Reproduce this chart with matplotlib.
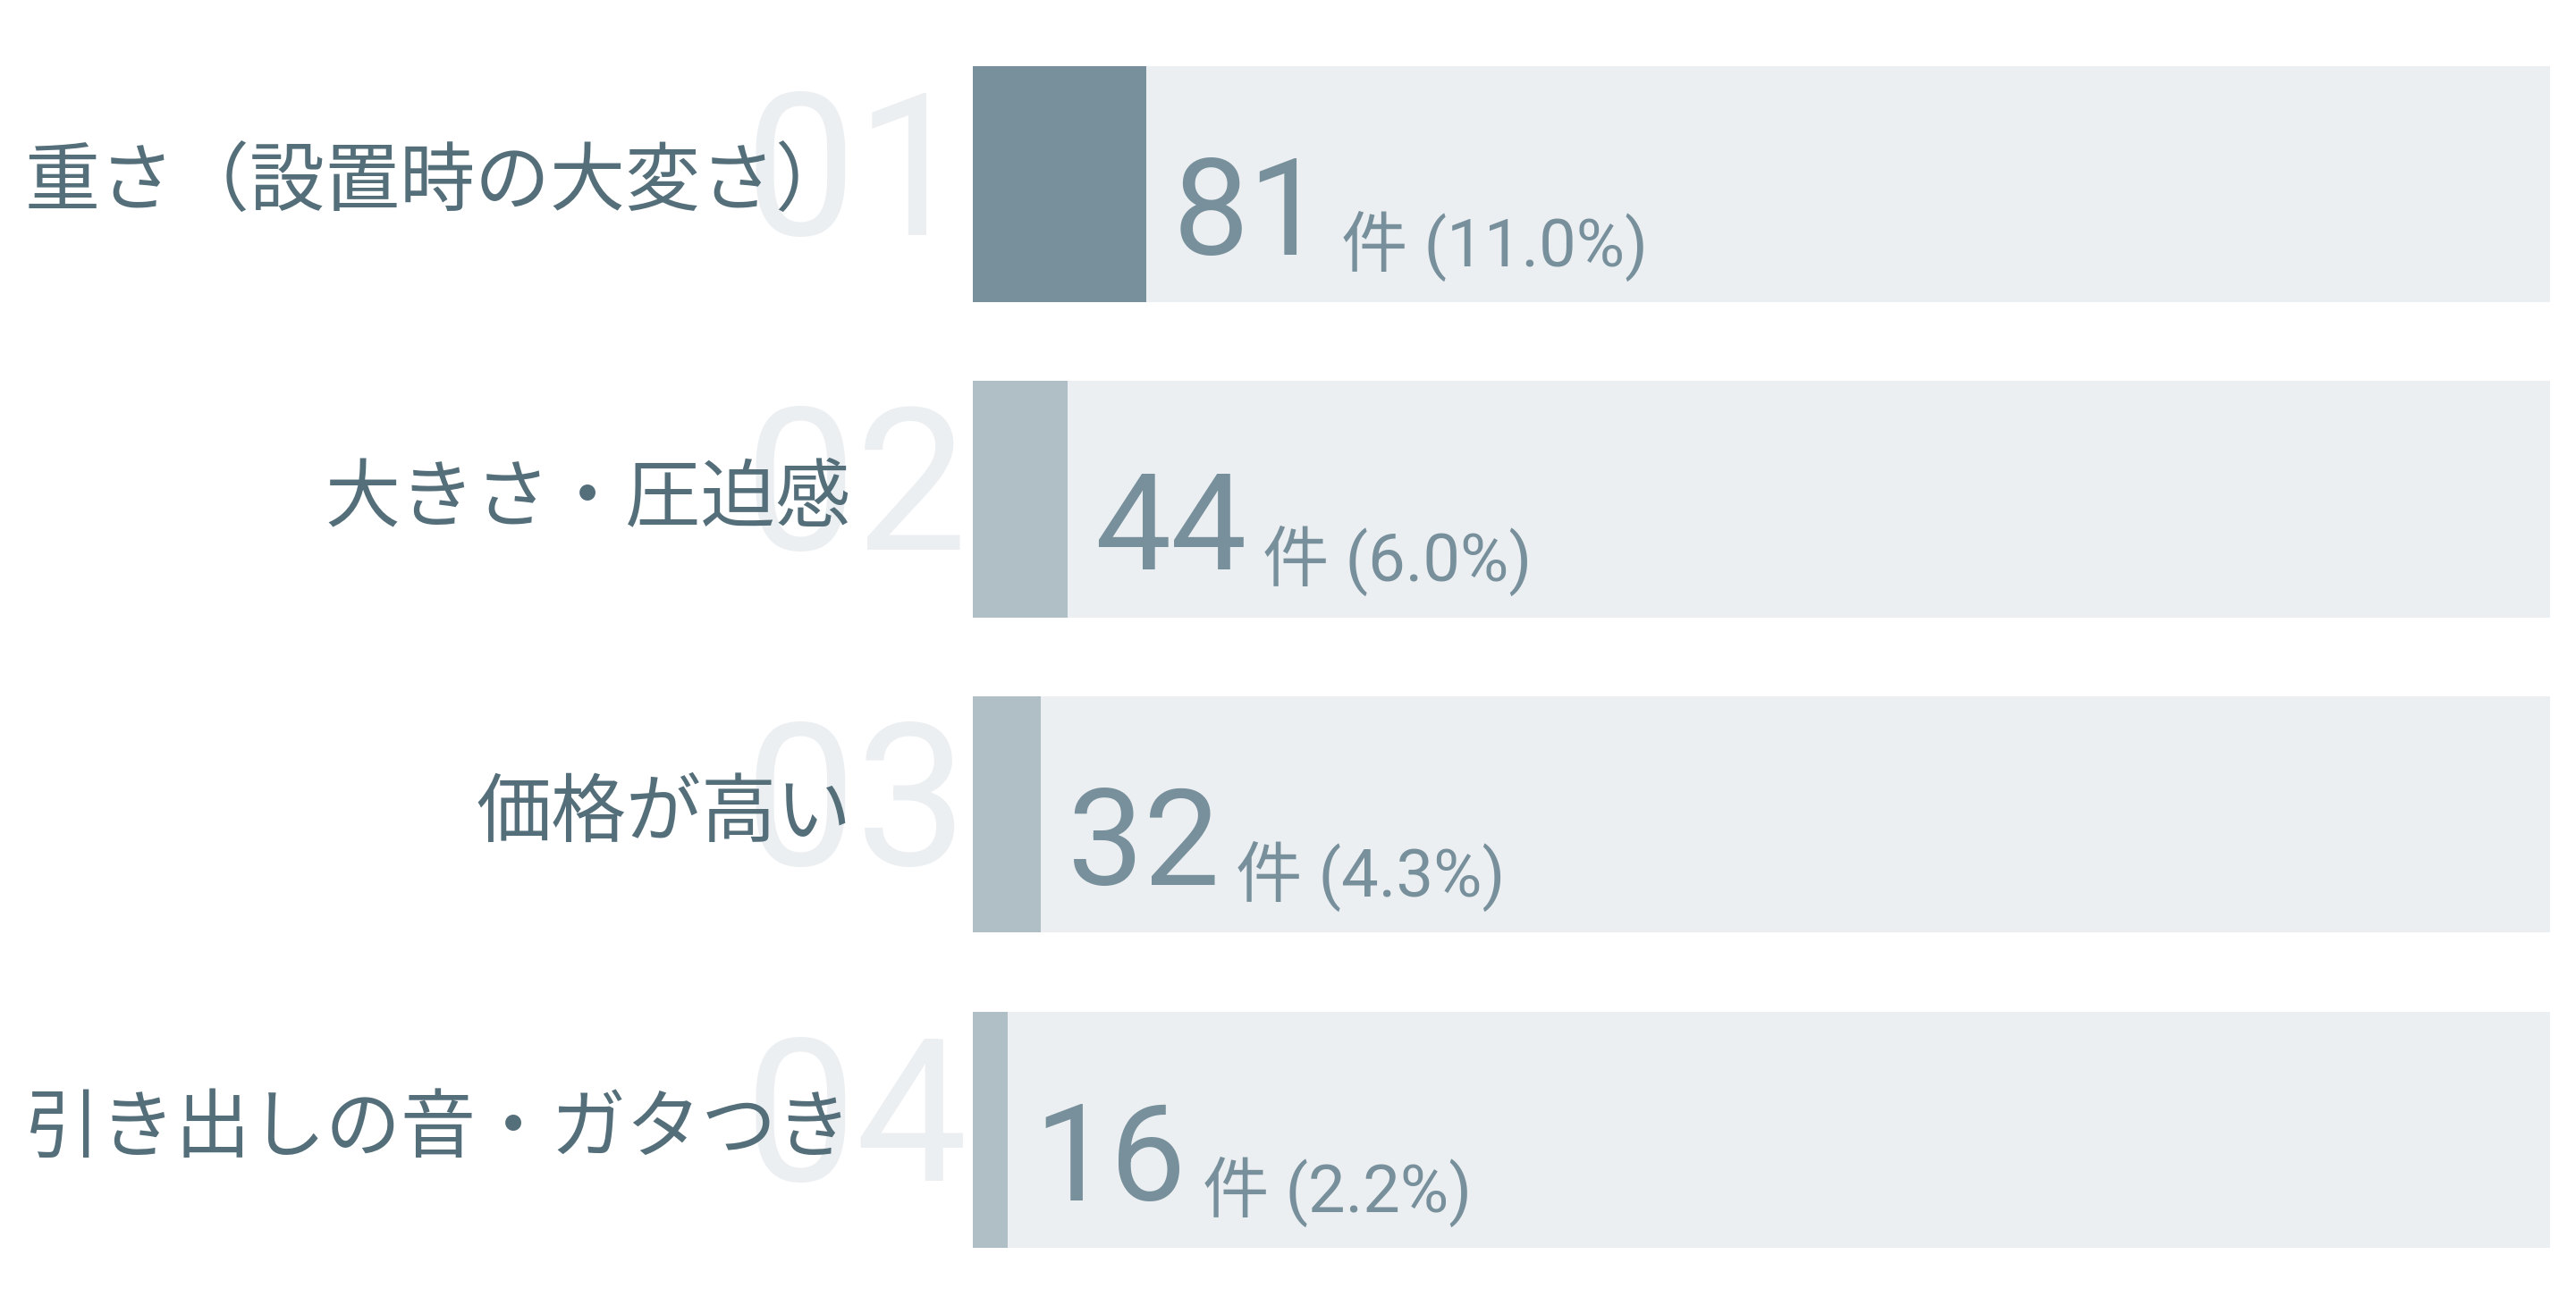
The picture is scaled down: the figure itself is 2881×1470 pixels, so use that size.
import matplotlib
matplotlib.use("Agg")
import matplotlib.pyplot as plt
from matplotlib import transforms

# ---- data ----
labels = ["重さ（設置時の大変さ）", "大きさ・圧迫感", "価格が高い", "引き出しの音・ガタつき"]
ranks = ["01", "02", "03", "04"]
counts = [81, 44, 32, 16]
percents = [11.0, 6.0, 4.3, 2.2]
unit = "件"

# ---- style ----
TRACK = "#eceff1"
FILL_TOP = "#78909c"
FILL_REST = "#b0bec5"
LABEL_C = "#546e7a"
VALUE_C = "#78909c"
RANK_C = "#eceff1"
CJK = ["Noto Sans CJK JP", "DejaVu Sans"]
NUM = ["Roboto", "Noto Sans CJK JP", "DejaVu Sans"]

W, H, DPI = 2881, 1470, 100
fig = plt.figure(figsize=(W / DPI, H / DPI), dpi=DPI)
fig.patch.set_facecolor("white")

# axes spanning the bar tracks
left_px, right_px = 1088, 2852
top_px, bot_px = 73.5, 1396
ax = fig.add_axes([left_px / W, (H - bot_px) / H, (right_px - left_px) / W, (bot_px - top_px) / H])
n = len(labels)
ypos = list(range(n))
bar_h = 0.75
ax.set_xlim(0, 100)
ax.set_ylim(n - 1 + bar_h / 2, -bar_h / 2)
ax.axis("off")

ax.barh(ypos, [100] * n, height=bar_h, color=TRACK, linewidth=0, zorder=1)
ax.barh(ypos, percents, height=bar_h,
        color=[FILL_TOP] + [FILL_REST] * (n - 1), linewidth=0, zorder=2)

def off(dx_px, dy_px):
    return transforms.ScaledTranslation(dx_px / DPI, -dy_px / DPI, fig.dpi_scale_trans)

xin_y = transforms.blended_transform_factory(fig.dpi_scale_trans, ax.transData)

big_texts = []
for i in range(n):
    # rank number (background)
    ax.text(1082 / DPI, ypos[i], ranks[i], transform=xin_y + off(0, 57),
            ha="right", va="baseline", fontsize=160, color=RANK_C,
            family=NUM, fontweight="normal", zorder=0, clip_on=False)
    # category label
    ax.text(952 / DPI, ypos[i], labels[i], transform=xin_y + off(0, 24),
            ha="right", va="baseline", fontsize=60.5, color=LABEL_C,
            family=CJK, zorder=5, clip_on=False)
    # count number
    t = ax.text(percents[i], ypos[i], str(counts[i]), transform=ax.transData + off(30, 79),
                ha="left", va="baseline", fontsize=109, color=VALUE_C,
                family=NUM, zorder=5, clip_on=False)
    big_texts.append(t)

fig.canvas.draw()
renderer = fig.canvas.get_renderer()
for i, t in enumerate(big_texts):
    bb = t.get_window_extent(renderer)
    ax.text(bb.x1 + 18, ypos[i],
            f"{unit} ({percents[i]:.1f}%)",
            transform=transforms.blended_transform_factory(transforms.IdentityTransform(), ax.transData) + off(0, 92),
            ha="left", va="baseline", fontsize=53.5, color=VALUE_C,
            family=NUM, zorder=5, clip_on=False)

fig.savefig("out.png", dpi=DPI, facecolor="white")
